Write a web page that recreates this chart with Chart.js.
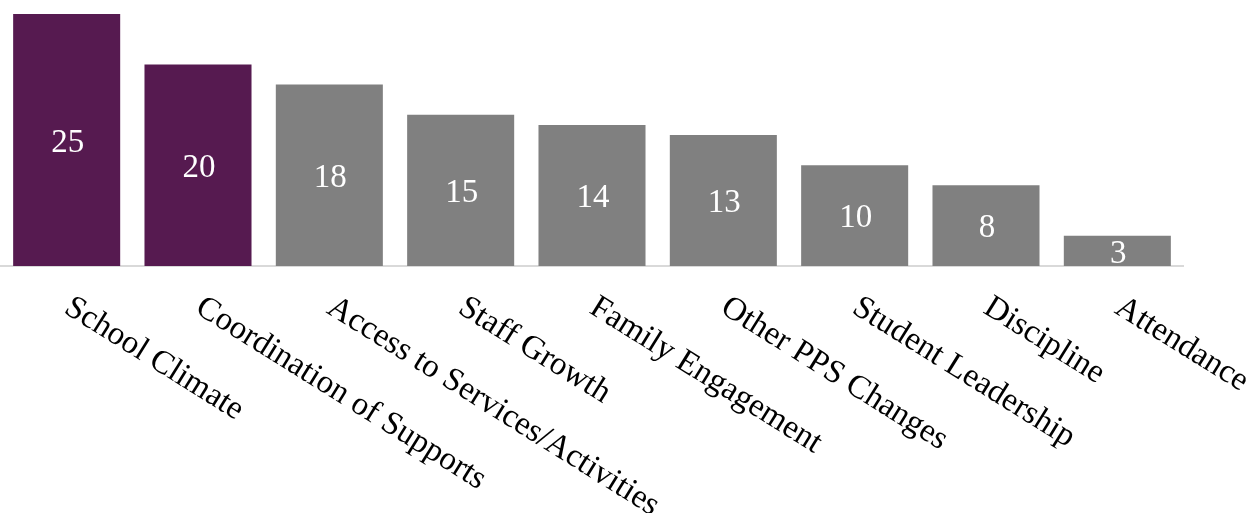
<!DOCTYPE html>
<html>
<head>
<meta charset="utf-8">
<script src="https://cdn.jsdelivr.net/npm/chart.js@4"></script>
<style>
  html, body { margin: 0; padding: 0; background: #ffffff; }
  #wrap { width: 1258px; height: 513px; }
</style>
</head>
<body>
<div id="wrap"><canvas id="c" width="1258" height="513"></canvas></div>
<script>
const categories = ["School Climate", "Coordination of Supports", "Access to Services/Activities", "Staff Growth", "Family Engagement", "Other PPS Changes", "Student Leadership", "Discipline", "Attendance"];
const values = [25, 20, 18, 15, 14, 13, 10, 8, 3];
const highlightCount = 2;
const purple = "#561a50";
const gray = "#808080";
const barColors = values.map((v, i) => i < highlightCount ? purple : gray);

const labelFont = '33px "Liberation Serif", serif';
const valueFont = '33px "Liberation Serif", serif';
const labelAngle = 32 * Math.PI / 180;

const customLabels = {
  id: 'customLabels',
  afterDatasetsDraw(chart) {
    const ctx = chart.ctx;
    const meta = chart.getDatasetMeta(0);
    ctx.save();
    ctx.fillStyle = '#ffffff';
    ctx.font = valueFont;
    ctx.textAlign = 'center';
    ctx.textBaseline = 'middle';
    meta.data.forEach((bar, i) => {
      const props = bar.getProps(['x', 'y', 'base'], true);
      const cy = (props.y + props.base) / 2 + 3;
      ctx.fillText(String(values[i]), props.x + 1, cy);
    });
    ctx.restore();

    const xs = chart.scales.x;
    ctx.save();
    ctx.fillStyle = '#000000';
    ctx.font = labelFont;
    ctx.textAlign = 'left';
    ctx.textBaseline = 'alphabetic';
    categories.forEach((lab, i) => {
      const px = xs.getPixelForValue(i);
      ctx.save();
      ctx.translate(px - 4, chart.chartArea.bottom + 46);
      ctx.rotate(labelAngle);
      ctx.fillText(lab, 0, 0);
      ctx.restore();
    });
    ctx.restore();
  }
};

new Chart(document.getElementById('c'), {
  type: 'bar',
  data: {
    labels: categories,
    datasets: [{
      data: values,
      backgroundColor: barColors,
      borderWidth: 0,
      categoryPercentage: 1.0,
      barPercentage: 0.815
    }]
  },
  options: {
    responsive: false,
    animation: false,
    devicePixelRatio: 1,
    layout: { padding: { top: 14, left: 1, right: 75, bottom: 247 } },
    plugins: {
      legend: { display: false },
      tooltip: { enabled: false },
      title: { display: false }
    },
    scales: {
      x: {
        display: true,
        grid: { display: false, drawTicks: false },
        ticks: { display: false },
        border: { display: true, color: '#d9d9d9', width: 2 }
      },
      y: {
        display: false,
        min: 0,
        max: 25
      }
    }
  },
  plugins: [customLabels]
});
</script>
</body>
</html>
